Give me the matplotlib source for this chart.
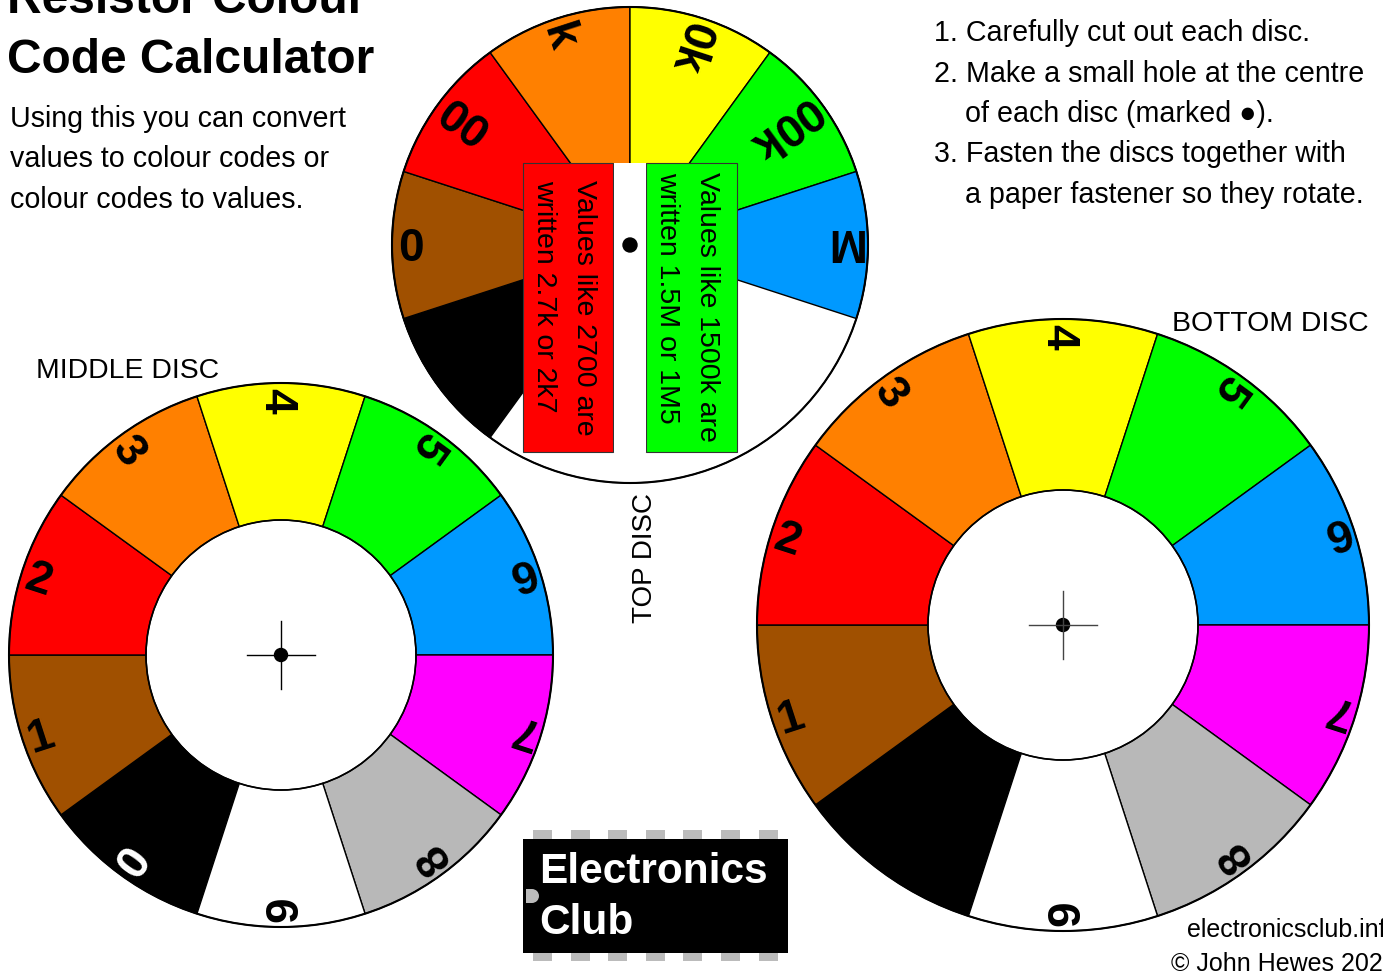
import matplotlib
matplotlib.use('Agg')
import matplotlib.pyplot as plt
from matplotlib import patches, font_manager
import numpy as np

W, H = 1383, 974
DPI = 100

# colour code: index = digit value
band_colours = ['#000000', '#A05000', '#FF0000', '#FF8000', '#FFFF00',
                '#00FF00', '#0099FF', '#FF00FF', '#B8B8B8', '#FFFFFF']
middle_labels = ['0', '1', '2', '3', '4', '5', '6', '7', '8', '9']
middle_label_colours = ['white'] + ['black'] * 9
bottom_labels = ['', '1', '2', '3', '4', '5', '6', '7', '8', '9']
# top disc: multiplier for black..blue
multipliers = ['', '0', '00', 'k', '0k', '00k', 'M']

title_lines = ['Resistor Colour', 'Code Calculator']
intro_lines = ['Using this you can convert',
               'values to colour codes or',
               'colour codes to values.']
step_lines = [('1. Carefully cut out each disc.', 0),
              ('2. Make a small hole at the centre', 0),
              ('of each disc (marked \u25cf).', 1),
              ('3. Fasten the discs together with', 0),
              ('a paper fastener so they rotate.', 1)]
red_note = ['Values like 2700 are', 'written 2.7k or 2k7']
green_note = ['Values like 1500k are', 'written 1.5M or 1M5']

SANS = ['Liberation Sans', 'DejaVu Sans']
try:
    font_manager.findfont(font_manager.FontProperties(family='Liberation Sans Narrow'),
                          fallback_to_default=False)
    NARROW, narrow_k = ['Liberation Sans Narrow', 'DejaVu Sans'], 1.0
except ValueError:
    NARROW, narrow_k = SANS, 0.82


def fy(y):
    # picture rows run downwards, data y runs upwards
    return H - y


def radial_label(ax, cx, cy, r0, theta, s, size, colour):
    # text reads from the rim towards the centre
    phi = theta + 180
    h = 0.716 * size * DPI / 72
    t, p = np.radians(theta), np.radians(phi)
    x = cx + r0 * np.cos(t) + h / 2 * np.sin(p)
    y = cy + r0 * np.sin(t) - h / 2 * np.cos(p)
    ax.text(x, y, s, rotation=phi % 360, rotation_mode='anchor', ha='left',
            va='baseline', fontsize=size, fontweight='bold', color=colour,
            family=SANS)


def ring_disc(ax, cx, cy, R, r_in, labels, label_colours, cross_colour):
    for d in range(10):
        mid = 90 - (d - 4) * 36
        ax.add_patch(patches.Wedge((cx, cy), R, mid - 18, mid + 18, width=R - r_in,
                                   fc=band_colours[d], ec='black', lw=1))
    ax.add_patch(patches.Circle((cx, cy), R, fill=False, ec='black', lw=1.5))
    ax.add_patch(patches.Circle((cx, cy), r_in, fill=False, ec='black', lw=1.2))
    for d in range(10):
        if labels[d]:
            radial_label(ax, cx, cy, R - 5, 90 - (d - 4) * 36, labels[d], 33,
                         label_colours[d])
    ax.plot([cx - 34, cx + 34], [cy, cy], color=cross_colour, lw=1)
    ax.plot([cx, cx], [cy - 34, cy + 34], color=cross_colour, lw=1)
    ax.add_patch(patches.Circle((cx, cy), 6.5, color='black'))


fig = plt.figure(figsize=(W / DPI, H / DPI), dpi=DPI)
ax = fig.add_axes([0, 0, 1, 1])
ax.set_xlim(0, W)
ax.set_ylim(0, H)
ax.set_aspect('equal')
ax.axis('off')

# ---- top disc
tcx, tcy, tR = 630, fy(245), 238
ax.add_patch(patches.Circle((tcx, tcy), tR, fc='white', ec='black', lw=1))
for m in range(7):
    mid = 216 - 36 * m
    ax.add_patch(patches.Wedge((tcx, tcy), tR, mid - 18, mid + 18,
                               fc=band_colours[m], ec='black', lw=1))
ax.add_patch(patches.Circle((tcx, tcy), tR, fill=False, ec='black', lw=1.5))
for m in range(7):
    if multipliers[m]:
        radial_label(ax, tcx, tcy, tR - 6, 216 - 36 * m, multipliers[m], 33, 'black')

ax.add_patch(patches.Rectangle((523, fy(452)), 90, 289, fc='#FF0000', ec='#333333', lw=0.8))
ax.add_patch(patches.Rectangle((646, fy(452)), 91, 289, fc='#00FF00', ec='#333333', lw=0.8))
ax.add_patch(patches.Rectangle((613.5, fy(452)), 32, 289, fc='white', ec='none'))
note_size = 25 * narrow_k
for i, s in enumerate(red_note):
    ax.text([577, 537][i], fy(180), s, rotation=-90, rotation_mode='anchor',
            ha='left', va='baseline', fontsize=note_size, family=NARROW)
for i, s in enumerate(green_note):
    ax.text([700, 660][i], fy(172), s, rotation=-90, rotation_mode='anchor',
            ha='left', va='baseline', fontsize=note_size, family=NARROW)
ax.add_patch(patches.Circle((tcx, tcy), 7, color='black'))
ax.text(652, fy(623), 'TOP DISC', rotation=90, rotation_mode='anchor', ha='left',
        va='baseline', fontsize=20, family=SANS)

# ---- middle and bottom discs
ring_disc(ax, 281, fy(655), 272, 135, middle_labels, middle_label_colours, 'black')
ring_disc(ax, 1063, fy(625), 306, 135, bottom_labels, ['black'] * 10, '#444444')
ax.text(36, fy(378), 'MIDDLE DISC', fontsize=20.4, family=SANS)
ax.text(1172, fy(331), 'BOTTOM DISC', fontsize=20.4, family=SANS)

# ---- heading and instructions
for i, s in enumerate(title_lines):
    ax.text(7, fy(13 + 60 * i), s, fontsize=34.5, fontweight='bold', family=SANS)
for i, s in enumerate(intro_lines):
    ax.text(10, fy(127 + 40.3 * i), s, fontsize=20.6, family=SANS)
ax.text(933, fy(-2), 'Instructions', fontsize=26, fontweight='bold', family=SANS)
for i, (s, indent) in enumerate(step_lines):
    ax.text(934 + 31 * indent, fy(41 + 40.5 * i), s, fontsize=20.6, family=SANS)

# ---- logo
for i in range(7):
    px = 533 + 37.6 * i
    ax.add_patch(patches.Rectangle((px, fy(839)), 19, 9, fc='#BBBBBB', ec='none'))
    ax.add_patch(patches.Rectangle((px, fy(961)), 19, 8, fc='#BBBBBB', ec='none'))
ax.add_patch(patches.Rectangle((523, fy(953)), 265, 114, fc='black', ec='none'))
ax.add_patch(patches.Rectangle((526, fy(903)), 6, 14, fc='#BBBBBB', ec='none'))
ax.add_patch(patches.Wedge((532, fy(896)), 7, -90, 90, fc='#BBBBBB', ec='none'))
ax.text(539, fy(883), 'Electronics', fontsize=30.5, fontweight='bold', color='white', family=SANS)
ax.text(539, fy(934), 'Club', fontsize=30.5, fontweight='bold', color='white', family=SANS)

# ---- footer
ax.text(1187, fy(937), 'electronicsclub.info', fontsize=18, family=SANS)
ax.text(1171, fy(971), '\u00a9 John Hewes 2021', fontsize=18, family=SANS)

fig.savefig('out.png', dpi=DPI)
